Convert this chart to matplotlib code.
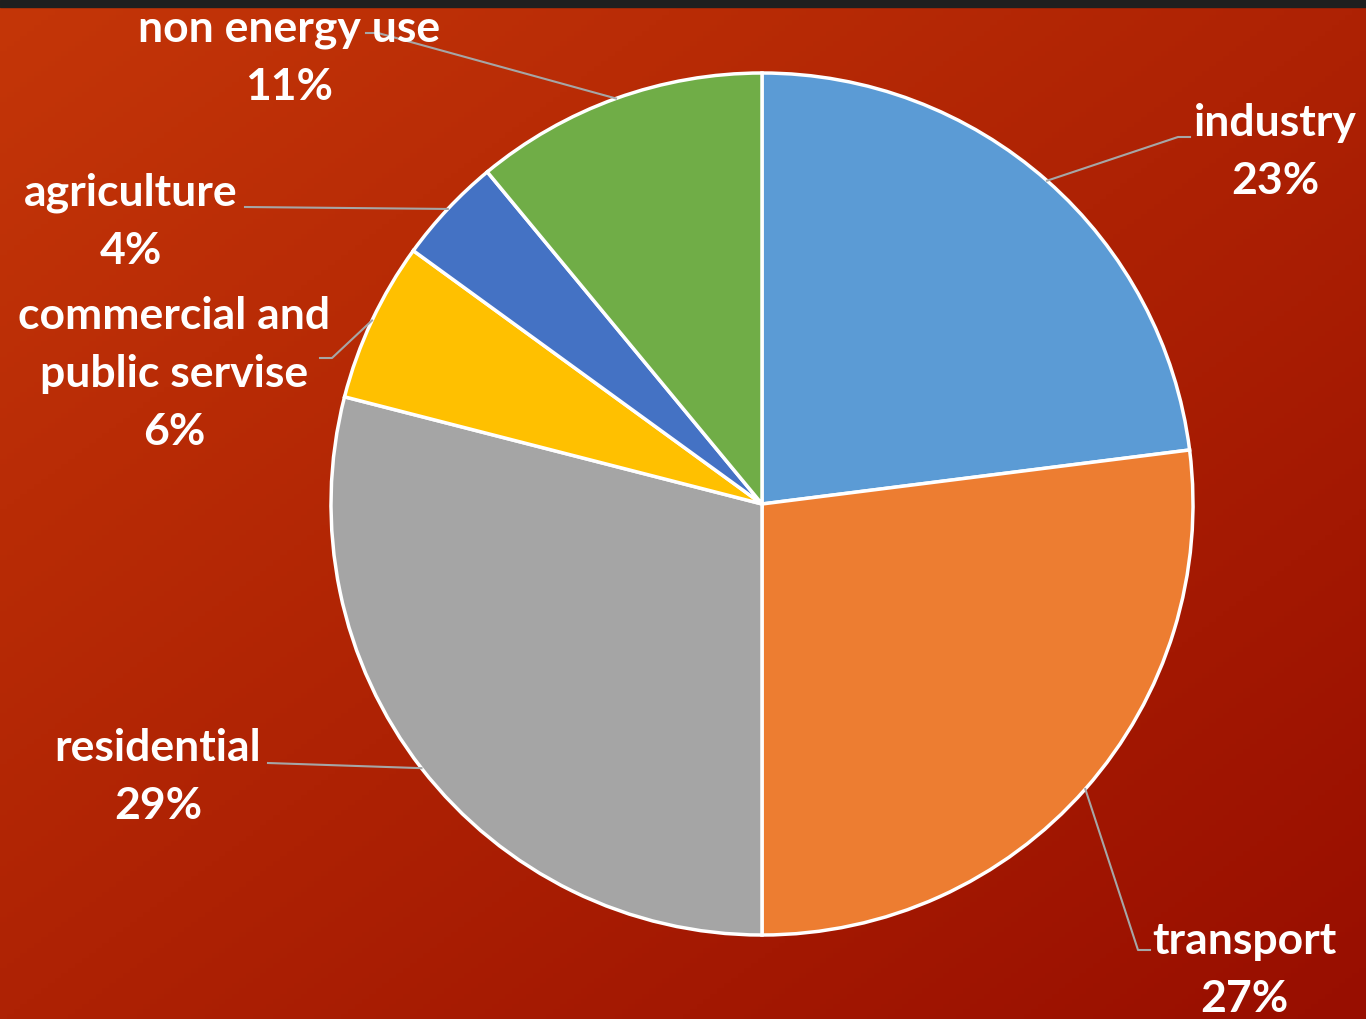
import numpy as np
import matplotlib.pyplot as plt
from matplotlib.patches import Rectangle

# data
sectors = ["industry", "transport", "residential",
           "commercial and\npublic servise", "agriculture", "non energy use"]
shares = [23, 27, 29, 6, 4, 11]
colors = ["#5b9bd5", "#ed7d31", "#a5a5a5", "#ffc000", "#4472c4", "#70ad47"]

# label anchor (pixel coords of text centre, y from top) and where the leader line ends
label_pos = [(1275, 152), (1244, 970), (158, 777), (174, 374), (131, 222), (289, 58)]
line_end = [(1190, 137), (1150, 950), (268, 763), (320, 358), (245, 207), (366, 33)]

W, H = 1366, 1019
fig = plt.figure(figsize=(W / 100, H / 100), dpi=100)

# background gradient (orange-red top left -> dark red bottom right)
bg = fig.add_axes([0, 0, 1, 1])
yy, xx = np.mgrid[0:1:200j, 0:1:200j]
t = (xx + yy) / 2
c0 = np.array([0xc4, 0x36, 0x08]) / 255
c1 = np.array([0x98, 0x0e, 0x00]) / 255
img = c0[None, None, :] * (1 - t[..., None]) + c1[None, None, :] * t[..., None]
bg.imshow(img, extent=[0, W, H, 0], aspect="auto")
bg.set_xlim(0, W)
bg.set_ylim(H, 0)
bg.axis("off")
bg.add_patch(Rectangle((0, 0), W, 7, color="#1f1f1f", zorder=3))

ax = fig.add_axes([0, 0, 1, 1])
ax.patch.set_alpha(0)

cx, cy, r = 762, H - 504, 431
wedges, _ = ax.pie(shares, colors=colors, startangle=90, counterclock=False,
                   center=(cx, cy), radius=r, frame=True,
                   wedgeprops=dict(edgecolor="white", linewidth=2.5))
ax.set_xlim(0, W)
ax.set_ylim(0, H)
ax.set_aspect("equal")
ax.axis("off")

font = dict(family=["Lato", "DejaVu Sans"], fontweight="bold", fontsize=32, color="white")

for w, name, val, (lx, ly), (ex, ey) in zip(wedges, sectors, shares, label_pos, line_end):
    ang = np.deg2rad((w.theta1 + w.theta2) / 2)
    px, py = cx + r * np.cos(ang), cy + r * np.sin(ang)
    ey = H - ey
    elbow = ex + (-12 if ex > cx else 12)
    if name == "agriculture" or name == "residential":
        ax.plot([ex, px], [ey, py], color="#a6a6a6", lw=1.5, zorder=1)
    else:
        ax.plot([ex, elbow, px], [ey, ey, py], color="#a6a6a6", lw=1.5, zorder=1)
    ax.text(lx, H - ly, f"{name}\n{val}%", ha="center", va="center",
            linespacing=1.56, **font)

fig.savefig("out.png", dpi=100)
